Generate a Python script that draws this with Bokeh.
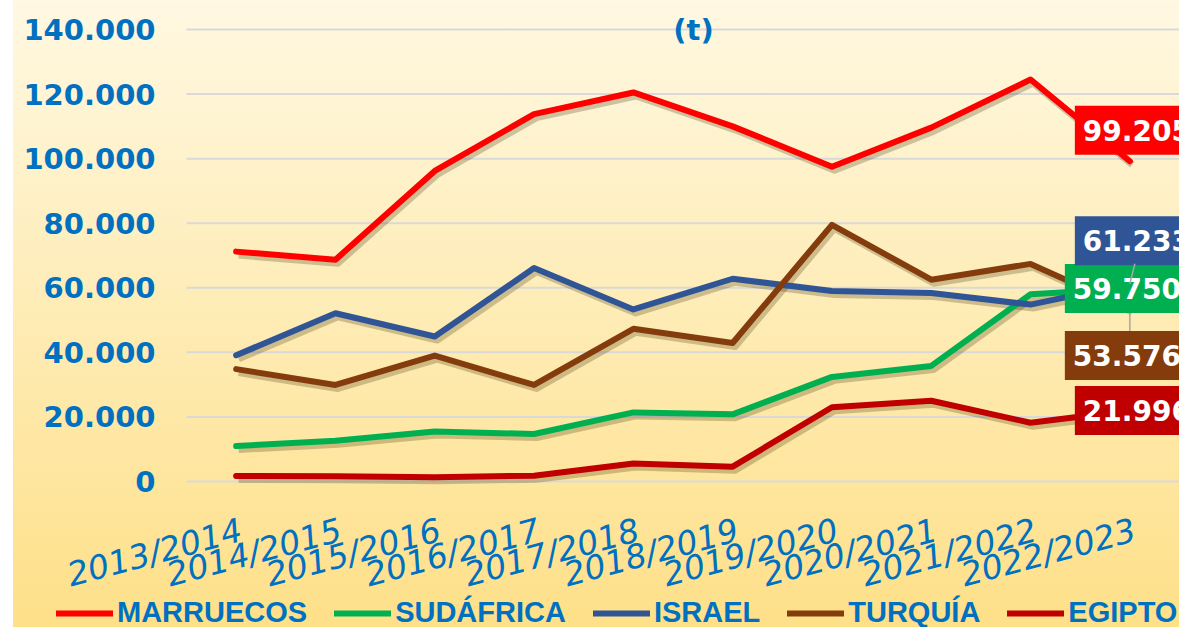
from bokeh.plotting import figure
from bokeh.models import Range1d, Legend, LegendItem, Label, ColumnDataSource
from bokeh.transform import dodge
from bokeh.embed import file_html
from bokeh.resources import INLINE

# ---------------- data ----------------
categories = ["2013/2014", "2014/2015", "2015/2016", "2016/2017", "2017/2018",
              "2018/2019", "2019/2020", "2020/2021", "2021/2022", "2022/2023"]
marruecos = [71200, 68700, 96200, 113800, 120500, 110000, 97500, 109600, 124500, 99205]
sudafrica = [11000, 12600, 15500, 14700, 21400, 20800, 32400, 35800, 58000, 59750]
israel = [39100, 52100, 44900, 66100, 53300, 62800, 59000, 58400, 54800, 61233]
turquia = [34800, 29900, 39000, 29900, 47300, 42900, 79500, 62500, 67400, 53576]
egipto = [1700, 1600, 1300, 1800, 5600, 4600, 23000, 25000, 18200, 21996]
series_names = ["MARRUECOS", "SUDÁFRICA", "ISRAEL", "TURQUÍA", "EGIPTO"]
series_values = [marruecos, sudafrica, israel, turquia, egipto]
series_colors = ["#FF0000", "#00B050", "#2F5597", "#843C0C", "#C00000"]
label_texts = ["99.205", "59.750", "61.233", "53.576", "21.996"]
y_ticks = [0, 20000, 40000, 60000, 80000, 100000, 120000, 140000]
y_tick_labels = ["0", "20.000", "40.000", "60.000", "80.000", "100.000", "120.000", "140.000"]

BLUE = "#0070C0"
W, H = 1179, 627
PLOT_LEFT = 186          # pixel where the category area starts
ZERO_Y = 481             # pixel (from top) of the 0 line
TOP_Y = 29               # pixel (from top) of the 140.000 line
n = len(categories)
ux = (W - PLOT_LEFT) / n                       # pixels per category
px_y = max(y_ticks) / (ZERO_Y - TOP_Y)         # data units per pixel (y)
px_x = 1.0 / ux                                # data units per pixel (x)

xpos = [i + 0.5 for i in range(n)]             # category centres

p = figure(width=W, height=H,
           x_range=Range1d(-PLOT_LEFT * px_x, n),
           y_range=Range1d(-(H - ZERO_Y) * px_y, max(y_ticks) + TOP_Y * px_y),
           x_axis_type=None, y_axis_type=None,
           output_backend="svg", toolbar_location=None,
           min_border_left=0, min_border_right=0, min_border_top=0, min_border_bottom=0)
p.background_fill_color = None
p.border_fill_color = None
p.outline_line_color = None
p.grid.grid_line_color = None

# horizontal grid lines
p.segment(x0=[0] * len(y_ticks), x1=[n] * len(y_ticks), y0=y_ticks, y1=y_ticks,
          line_color="#D9D9D9", line_width=2)

# y tick labels
p.text(x=[-31 * px_x] * len(y_ticks), y=y_ticks, text=y_tick_labels,
       text_align="right", text_baseline="middle",
       text_font={"value": "DejaVu Sans"}, text_font_style="bold",
       text_font_size="29px", text_color=BLUE)

# x tick labels (rotated)
p.text(x=xpos, y=[-29 * px_y] * n, text=categories, angle=0.26,
       text_align="right", text_baseline="top",
       text_font={"value": "DejaVu Sans"}, text_font_style="italic",
       text_font_size="33px", text_color=BLUE)

# lines with soft shadows
renderers = []
for vals in series_values:
    src = ColumnDataSource(dict(x=xpos, y=vals))
    p.line(x=dodge("x", 2.5 * px_x), y=dodge("y", -3.5 * px_y), source=src,
           line_color="#3a2a00", line_alpha=0.25, line_width=7, line_join="round")
for vals, col in zip(series_values, series_colors):
    src = ColumnDataSource(dict(x=xpos, y=vals))
    r = p.line(x="x", y="y", source=src, line_color=col, line_width=6,
               line_join="round", line_cap="round")
    renderers.append(r)

# title (second line visible)
p.add_layout(Label(x=(693 - PLOT_LEFT) * px_x, y=max(y_ticks), text="(t)",
                   text_align="center", text_baseline="middle",
                   text_font="DejaVu Sans", text_font_style="bold", text_font_size="29px",
                   text_color=BLUE))

last_x = xpos[-1]

# leader line under the boxes
lead_src = ColumnDataSource(dict(x0=[last_x], y0=[turquia[-1]],
                                 x1=[last_x], y1=[turquia[-1] - 24 * px_y]))
p.segment(x0="x0", y0="y0", x1="x1", y1="y1", source=lead_src, line_color="#A6A6A6",
          line_width=1.5)

# end value labels
label_series = [marruecos, sudafrica, israel, turquia, egipto]
label_offsets = [(-55, 31), (-65, 0), (-55, 43), (-65, -47), (-55, 0)]
for txt, vals, col, (dx, dy) in zip(label_texts, label_series, series_colors, label_offsets):
    p.add_layout(Label(x=last_x, y=vals[-1], x_offset=dx, y_offset=dy, text=txt,
                       text_align="left", text_baseline="middle",
                       text_font="DejaVu Sans", text_font_style="bold",
                       text_font_size="28px", text_color="white",
                       background_fill_color=col, padding=(8, 14)))

# upper leader line drawn above the green box
lead2_src = ColumnDataSource(dict(x0=[last_x], y0=[israel[-1]],
                                  x1=[last_x + 5 * px_x], y1=[israel[-1] + 20 * px_y]))
lead2 = p.segment(x0="x0", y0="y0", x1="x1", y1="y1", source=lead2_src,
                  line_color="#A6A6A6", line_width=1.5)
lead2.level = "overlay"

legend = Legend(items=[LegendItem(label=nm, renderers=[r]) for nm, r in zip(series_names, renderers)],
                orientation="horizontal", location=(56, -2), glyph_width=57, glyph_height=20,
                label_standoff=4, spacing=27, padding=0, margin=0,
                border_line_color=None, background_fill_alpha=0,
                label_text_font="Liberation Sans", label_text_font_style="bold",
                label_text_font_size="29px", label_text_color=BLUE)
p.add_layout(legend, "center")

html = file_html(p, INLINE)
style = ("<style>body{background: linear-gradient(to right, #ffffff 13px, rgba(255,255,255,0) 13px),"
         " linear-gradient(to bottom, #FFF8E2, #FEE089); background-attachment: fixed;}</style>")
html = html.replace("</head>", style + "</head>")
open("out.html", "w").write(html)
